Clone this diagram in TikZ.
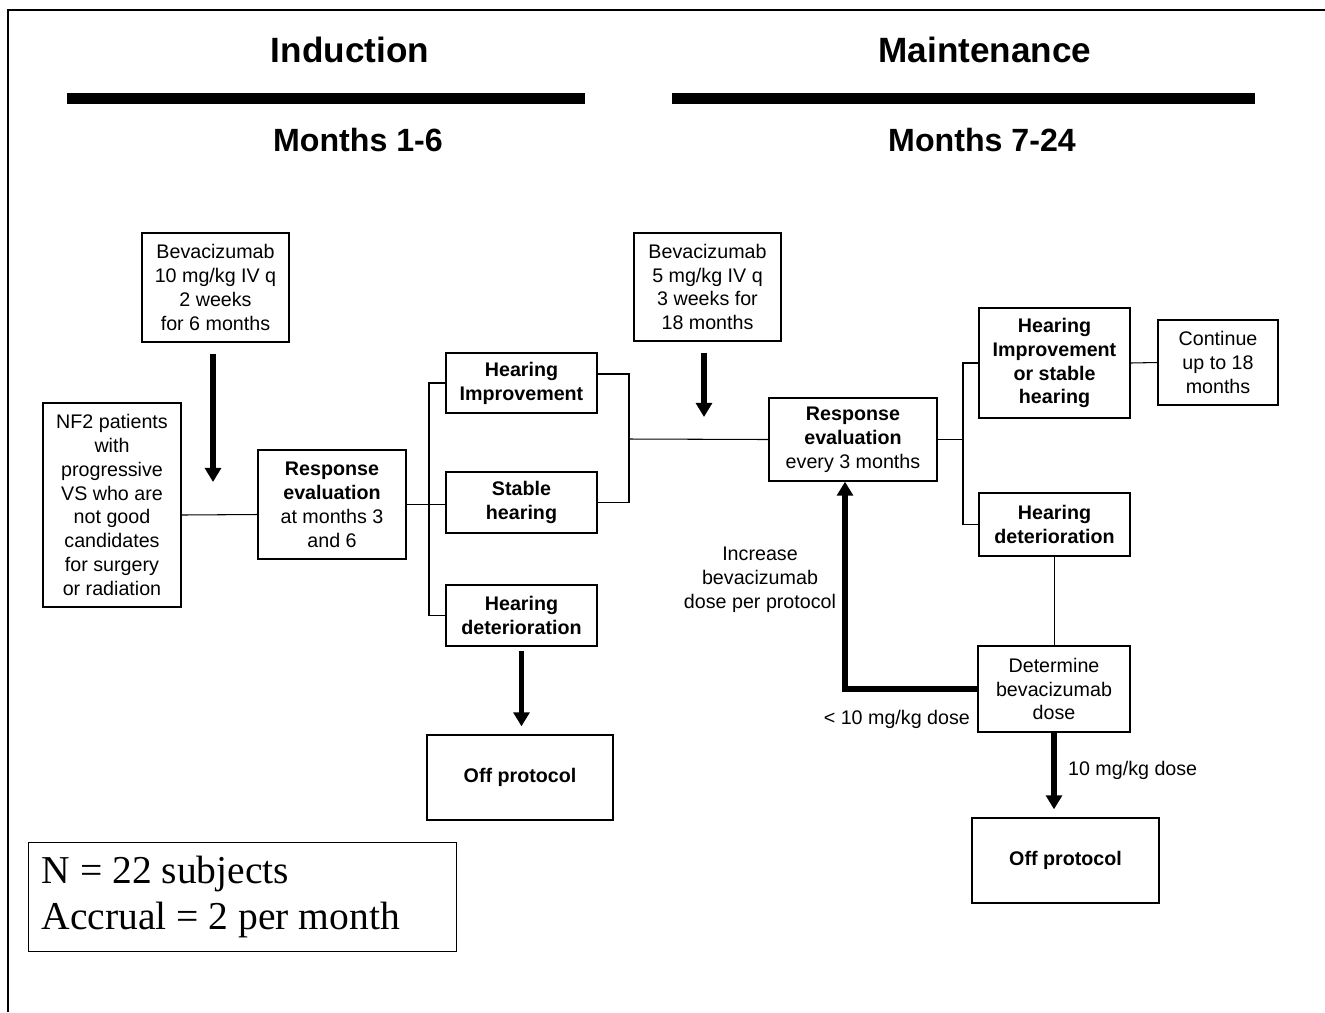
\documentclass[tikz,border=0pt]{standalone}
\usepackage{fontspec}
\setmainfont{Liberation Sans}
\newfontfamily\notefont{Liberation Serif}
\usetikzlibrary{arrows.meta,calc}

\begin{document}
\begin{tikzpicture}[
    x=0.02cm, y=-0.02cm,
    flowBox/.style={rectangle, draw=black, line width=0.75pt, align=center, inner sep=2pt, font=\fontsize{11.2}{13.6}\selectfont},
    flowBold/.style={flowBox, font=\fontsize{11.2}{13.6}\selectfont\bfseries},
    phaseTitle/.style={font=\fontsize{20}{24}\selectfont\bfseries},
    monthTitle/.style={font=\fontsize{18.3}{22}\selectfont\bfseries},
    sideLabel/.style={align=center, inner sep=1pt, font=\fontsize{11.2}{13.6}\selectfont},
    thinLink/.style={draw=black, line width=0.6pt},
    thickArrow/.style={draw=black, line width=3.4pt, -{Triangle[length=8pt,width=9pt]}}
]
    \useasboundingbox (0,0) rectangle (1325,1012);
    \draw[line width=1.1pt] (8,1012) -- (8,10) -- (1325,10);

    \node[phaseTitle] (induction) at (350,50) {Induction};
    \node[phaseTitle] (maintenance) at (985,50) {Maintenance};
    \draw[line width=6pt] (67,98.5) -- (585,98.5);
    \draw[line width=6pt] (672,98.5) -- (1255,98.5);
    \node[monthTitle] (monthsA) at (358,140) {Months 1-6};
    \node[monthTitle] (monthsB) at (982,140) {Months 7-24};

    \node[flowBox, minimum width=2.94cm, minimum height=2.18cm] (bevInd) at (215.5,287.5) {Bevacizumab\\10 mg/kg IV q\\2 weeks\\for 6 months};
    \node[flowBox, minimum width=2.76cm, minimum height=4.08cm] (patients) at (112,505) {NF2 patients\\with\\progressive\\VS who are\\not good\\candidates\\for surgery\\or radiation};
    \node[flowBox, minimum width=2.96cm, minimum height=2.18cm] (respInd) at (332,504.5) {\textbf{Response}\\\textbf{evaluation}\\at months 3\\and 6};
    \node[flowBold, minimum width=3.02cm, minimum height=1.2cm] (improveInd) at (521.5,383) {Hearing\\Improvement};
    \node[flowBold, minimum width=3.02cm, minimum height=1.22cm] (stableInd) at (521.5,502.5) {Stable\\hearing};
    \node[flowBold, minimum width=3.02cm, minimum height=1.22cm] (worseInd) at (521.5,615.5) {Hearing\\deterioration};
    \node[flowBold, minimum width=3.72cm, minimum height=1.7cm] (offInd) at (520,777.5) {Off protocol};

    \node[flowBox, minimum width=2.94cm, minimum height=2.16cm] (bevMaint) at (707.5,287) {Bevacizumab\\5 mg/kg IV q\\3 weeks for\\18 months};
    \node[flowBox, minimum width=3.36cm, minimum height=1.66cm] (respMaint) at (853,439.5) {\textbf{Response}\\\textbf{evaluation}\\every 3 months};
    \node[flowBold, minimum width=3.02cm, minimum height=2.2cm] (improveMaint) at (1054.5,363) {Hearing\\Improvement\\or stable\\hearing};
    \node[flowBox, minimum width=2.4cm, minimum height=1.7cm] (cont) at (1218,362.5) {Continue\\up to 18\\months};
    \node[flowBold, minimum width=3.02cm, minimum height=1.26cm] (worseMaint) at (1054.5,524.5) {Hearing\\deterioration};
    \node[flowBox, minimum width=3.04cm, minimum height=1.72cm] (doseCheck) at (1054,689) {Determine\\bevacizumab\\dose};
    \node[flowBold, minimum width=3.74cm, minimum height=1.7cm] (offMaint) at (1065.5,860.5) {Off protocol};

    \node[sideLabel] (raiseLabel) at (760,580) {Increase\\bevacizumab\\dose per protocol};
    \node[sideLabel, anchor=east] (lowLabel) at (972,719) {< 10 mg/kg dose};
    \node[sideLabel, anchor=west] (fullLabel) at (1066,770) {10 mg/kg dose};

    \node[draw=black, line width=0.75pt, anchor=north west, text width=8.04cm, inner xsep=0.26cm, inner ysep=2pt, minimum height=2.18cm, align=left, font=\notefont\fontsize{22.5}{26}\selectfont] (summary) at (28,842) {\spaceskip=0.25em\relax N = 22 subjects\\Accrual = 2 per month};

    \coordinate (splitInd) at (429,504);
    \coordinate (joinInd) at (629,439);
    \coordinate (splitMaint) at (963,439);
    \coordinate (doseInd) at (213,482);
    \coordinate (doseMaint) at (704,417);

    \draw[thinLink] ($(patients.east)+(0,10)$) -- ($(respInd.west)+(0,10)$);
    \draw[thinLink] (respInd.east) -- (respInd.east -| stableInd.west);
    \draw[thinLink] (improveInd.west) -- (improveInd.west -| splitInd) -- (worseInd.west -| splitInd) -- (worseInd.west);
    \draw[thinLink] ($(improveInd.east)+(0,-9)$) -| (joinInd) |- (stableInd.east);
    \draw[thinLink] (joinInd) -- (respMaint.west);
    \draw[thinLink] (respMaint.east) -- (respMaint.east -| splitMaint);
    \draw[thinLink] (improveMaint.west) -- (improveMaint.west -| splitMaint) -- (worseMaint.west -| splitMaint) -- (worseMaint.west);
    \draw[thinLink] (improveMaint.east) -- (cont.west);
    \draw[thinLink] (worseMaint.south) -- (worseMaint.south |- doseCheck.north);

    \draw[thickArrow, shorten <=0.22cm] (bevInd.south -| doseInd) -- (doseInd);
    \draw[thickArrow, shorten <=0.22cm] (bevMaint.south -| doseMaint) -- (doseMaint);
    \draw[thickArrow, shorten <=0.08cm, shorten >=0.16cm] (worseInd.south) -- (worseInd.south |- offInd.north);
    \draw[thickArrow] (doseCheck.west) -| ($(respMaint.south)+(-8,0)$);
    \draw[thickArrow, shorten >=0.16cm] (doseCheck.south) -- (doseCheck.south |- offMaint.north);
\end{tikzpicture}
\end{document}
